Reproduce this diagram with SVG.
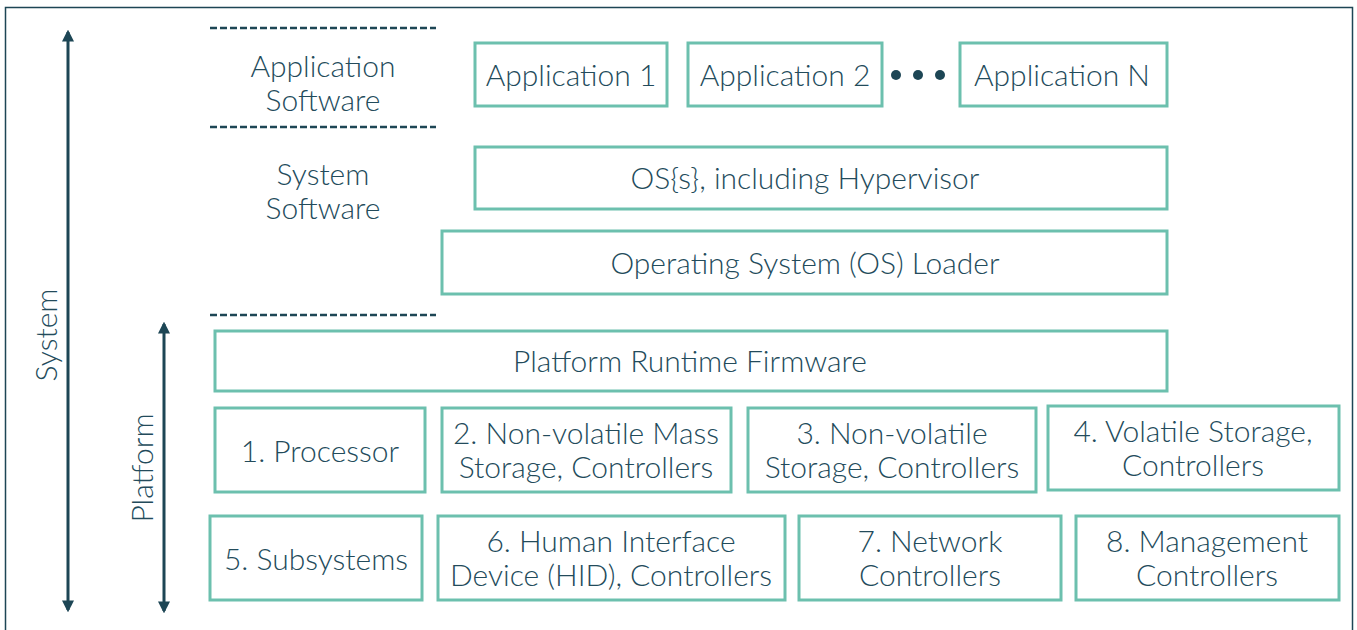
<svg xmlns="http://www.w3.org/2000/svg" width="1357" height="630" viewBox="0 0 1357 630">
<style>
text{font-family:Lato,"Open Sans","Liberation Sans",sans-serif;font-size:30px;font-weight:300;fill:#234b5b;text-anchor:middle}
.box{fill:#fff;stroke:#6cc0ae;stroke-width:3}
.dash{stroke:#1d4655;stroke-width:2.5;stroke-dasharray:7 3}
.arr{stroke:#1d4655;stroke-width:3;fill:none}
</style>
<defs>
<marker id="ah" viewBox="0 0 10 10" refX="8" refY="5" markerWidth="4" markerHeight="4" orient="auto-start-reverse"><path d="M0,0 L10,5 L0,10 z" fill="#1d4655"/></marker>
</defs>
<rect x="5.5" y="7.5" width="1347" height="640" fill="#fff" stroke="#1d4655" stroke-width="1.5"/>
<g id="dividers">
<line class="dash" x1="210" y1="28" x2="436" y2="28"/>
<line class="dash" x1="210" y1="127" x2="436" y2="127"/>
<line class="dash" x1="210" y1="315" x2="436" y2="315"/>
</g>
<g id="layer-labels">
<text x="323" y="77">Application</text>
<text x="323" y="111">Software</text>
<text x="323" y="185">System</text>
<text x="323" y="219">Software</text>
</g>
<g id="connectors">
<line class="arr" x1="68" y1="32" x2="68" y2="610" marker-start="url(#ah)" marker-end="url(#ah)"/>
<line class="arr" x1="164" y1="324" x2="164" y2="611" marker-start="url(#ah)" marker-end="url(#ah)"/>
</g>
<text transform="translate(57,335) rotate(-90)">System</text>
<text transform="translate(153,468) rotate(-90)">Platform</text>
<g id="app1"><rect class="box" x="475" y="43" width="192" height="63"/><text x="571" y="86">Application 1</text></g>
<g id="app2"><rect class="box" x="688" y="43" width="194" height="63"/><text x="785" y="86">Application 2</text></g>
<g id="dots" fill="#1d4655"><circle cx="896" cy="75" r="5"/><circle cx="918" cy="75" r="5"/><circle cx="940" cy="75" r="5"/></g>
<g id="appN"><rect class="box" x="960" y="43" width="207" height="63"/><text x="1062" y="86">Application N</text></g>
<g id="os"><rect class="box" x="475" y="147" width="692" height="62"/><text x="805" y="189">OS{s}, including Hypervisor</text></g>
<g id="loader"><rect class="box" x="442" y="231" width="725" height="63"/><text x="805" y="274">Operating System (OS) Loader</text></g>
<g id="prf"><rect class="box" x="215" y="331" width="952" height="60"/><text x="690" y="372">Platform Runtime Firmware</text></g>
<g id="n1"><rect class="box" x="215" y="408" width="210" height="84"/><text x="320" y="462">1. Processor</text></g>
<g id="n2"><rect class="box" x="442" y="408" width="289" height="84"/><text x="586" y="444">2. Non-volatile Mass</text><text x="586" y="478">Storage, Controllers</text></g>
<g id="n3"><rect class="box" x="748" y="408" width="288" height="84"/><text x="892" y="444">3. Non-volatile</text><text x="892" y="478">Storage, Controllers</text></g>
<g id="n4"><rect class="box" x="1048" y="406" width="291" height="84"/><text x="1193" y="442">4. Volatile Storage,</text><text x="1193" y="476">Controllers</text></g>
<g id="n5"><rect class="box" x="210" y="516" width="212" height="84"/><text x="316" y="570">5. Subsystems</text></g>
<g id="n6"><rect class="box" x="438" y="516" width="347" height="84"/><text x="611" y="552">6. Human Interface</text><text x="611" y="586">Device (HID), Controllers</text></g>
<g id="n7"><rect class="box" x="799" y="516" width="262" height="84"/><text x="930" y="552">7. Network</text><text x="930" y="586">Controllers</text></g>
<g id="n8"><rect class="box" x="1076" y="516" width="263" height="84"/><text x="1207" y="552">8. Management</text><text x="1207" y="586">Controllers</text></g>
</svg>
